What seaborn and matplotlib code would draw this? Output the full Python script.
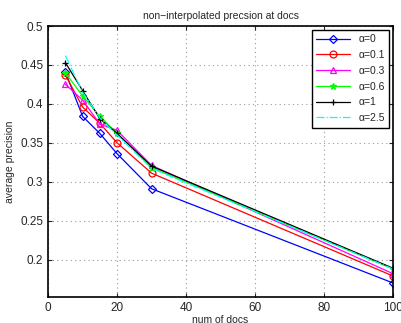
import numpy as np
import pandas as pd
import seaborn as sns
import matplotlib
matplotlib.use("Agg")
import matplotlib.pyplot as plt

docs = [5, 10, 15, 20, 30, 100]
labels = ['α=0', 'α=0.1', 'α=0.3', 'α=0.6', 'α=1', 'α=2.5']
p_a0 = [0.441, 0.384, 0.362, 0.336, 0.291, 0.170]
p_a01 = [0.437, 0.396, 0.375, 0.350, 0.311, 0.179]
p_a03 = [0.425, 0.405, 0.374, 0.366, 0.321, 0.182]
p_a06 = [0.440, 0.410, 0.384, 0.362, 0.318, 0.188]
p_a1 = [0.453, 0.417, 0.381, 0.362, 0.320, 0.189]
p_a25 = [0.462, 0.415, 0.382, 0.360, 0.317, 0.188]

colors = ['#0000ff', '#ff0000', '#ff00ff', '#00ff00', '#000000', '#00ffff']
markers = ['D', 'o', '^', '*', '+', None]
styles = ['-', '-', '-', '-', '-', '-.']

sns.set_style("ticks")
plt.rcParams['font.family'] = ['Liberation Sans', 'DejaVu Sans']

fig = plt.figure(figsize=(4.01, 3.23), dpi=100)
ax = fig.add_axes([0.12, 0.0805, 0.86, 0.839])

for lab, vals, c, m, ls in zip(labels, [p_a0, p_a01, p_a03, p_a06, p_a1, p_a25], colors, markers, styles):
    df = pd.DataFrame({'docs': docs, 'prec': vals})
    kw = dict(marker=m, markersize=5 if m != 'D' else 4, markeredgewidth=0.9)
    if m in ('D', 'o', '^'):
        kw['markerfacecolor'] = 'none'
    kw['markeredgecolor'] = c
    sns.lineplot(data=df, x='docs', y='prec', ax=ax, color=c, linestyle=ls,
                 linewidth=0.9, label=lab, **kw)

ax.set_xlim(0, 100)
ax.set_ylim(0.152, 0.5)
ax.set_xticks([0, 20, 40, 60, 80, 100])
ax.set_yticks([0.2, 0.25, 0.3, 0.35, 0.4, 0.45, 0.5])
ax.set_yticklabels(['0.2', '0.25', '0.3', '0.35', '0.4', '0.45', '0.5'])
ax.grid(True, linestyle=(0, (1, 3)), color='#9a9a9a', linewidth=0.8)
ax.tick_params(direction='in', labelsize=8.5, length=3, top=True, right=True)
for s in ax.spines.values():
    s.set_linewidth(1.2)
    s.set_color('black')
ax.set_title('non−interpolated precsion at docs', fontsize=7.5, pad=5)
ax.set_xlabel('num of docs', fontsize=7.5, labelpad=1)
ax.set_ylabel('average precision', fontsize=7.5, labelpad=4)

leg = ax.legend(loc='upper right', fontsize=7.5, frameon=True, fancybox=False,
                edgecolor='black', framealpha=1, handlelength=3.2,
                borderaxespad=0.35, labelspacing=0.55, borderpad=0.45)
leg.get_frame().set_linewidth(1.0)

fig.savefig('out.png', dpi=100)
